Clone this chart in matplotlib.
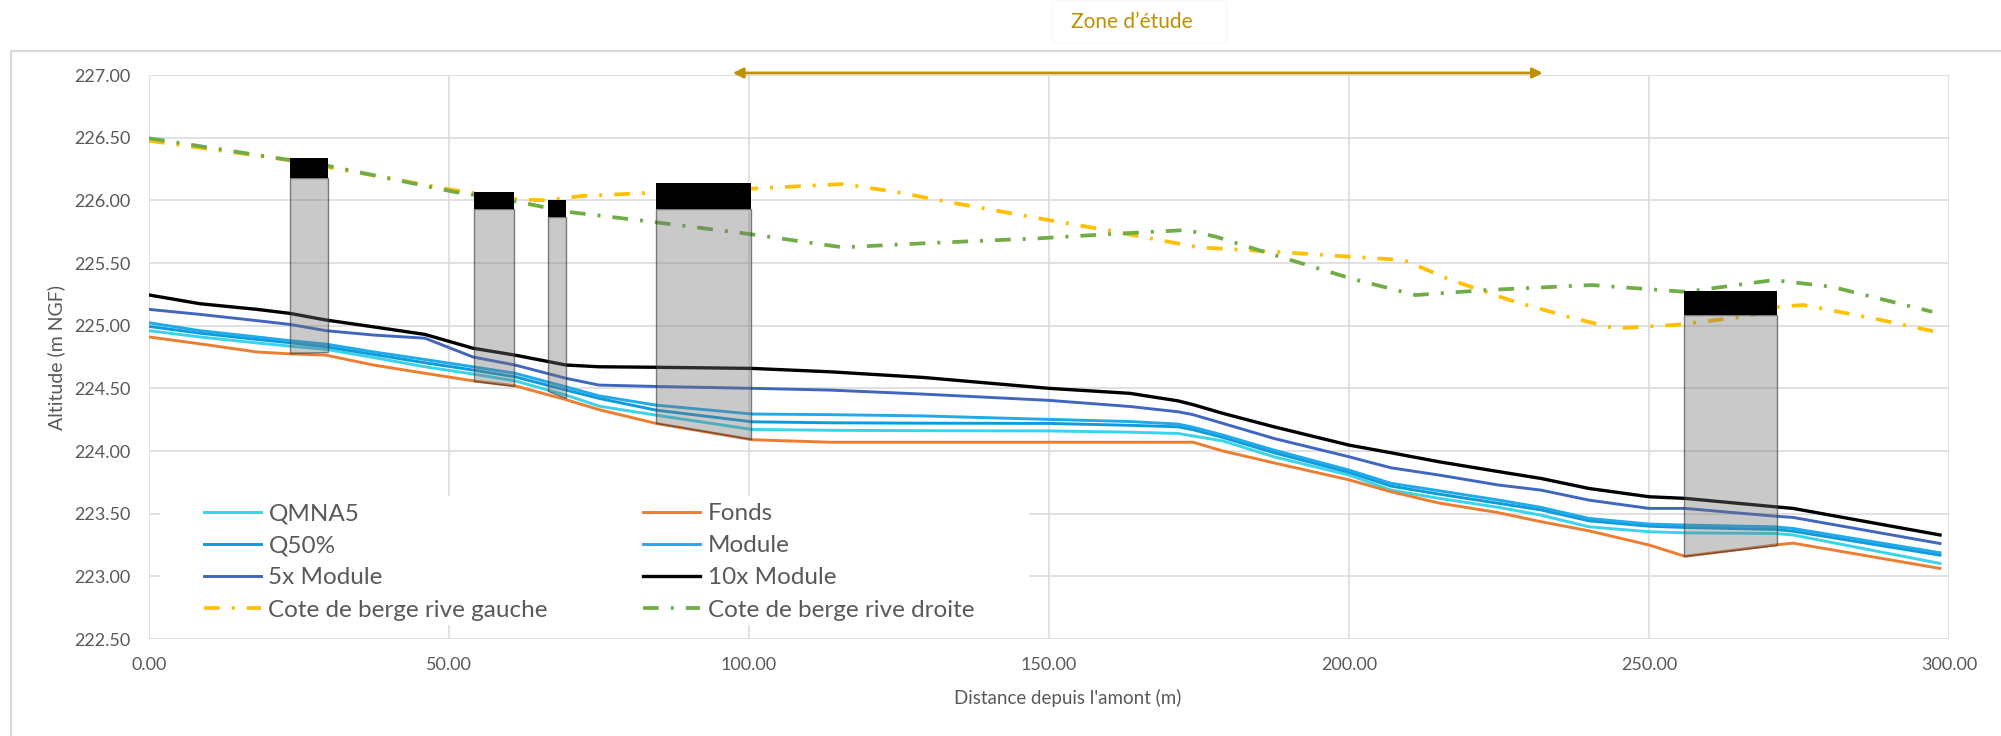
import matplotlib
matplotlib.use("Agg")
import matplotlib.pyplot as plt
from matplotlib.patches import Polygon, Rectangle
from matplotlib.ticker import FormatStrFormatter, MultipleLocator

plt.rcParams['font.family'] = ['Lato', 'DejaVu Sans']

# Distances (m) where the water profiles were sampled
dist = [0, 8.5, 18, 23.5, 29.5, 37.5, 46, 54, 61, 69.5, 75, 84.5, 100.5, 113.5,
        129, 150, 163.5, 171.5, 174, 179, 187.5, 200, 207, 215, 225, 232, 240,
        250, 256, 271, 274, 298.5]

fonds = [224.91, 224.855, 224.79, 224.775, 224.765, 224.685, 224.62, 224.56,
         224.52, 224.41, 224.33, 224.22, 224.09, 224.07, 224.07, 224.07, 224.07,
         224.07, 224.07, 224.0, 223.905, 223.77, 223.675, 223.585, 223.507,
         223.436, 223.363, 223.25, 223.16, 223.25, 223.265, 223.063]
qmna5 = [224.96, 224.91, 224.862, 224.837, 224.811, 224.745, 224.672, 224.614,
         224.56, 224.446, 224.358, 224.286, 224.172, 224.165, 224.162, 224.16,
         224.15, 224.14, 224.12, 224.08, 223.954, 223.808, 223.688, 223.622,
         223.55, 223.488, 223.395, 223.356, 223.347, 223.342, 223.33, 223.103]
q50 = [224.994, 224.94, 224.89, 224.864, 224.832, 224.77, 224.704, 224.646,
       224.592, 224.486, 224.42, 224.326, 224.233, 224.225, 224.222, 224.22,
       224.205, 224.193, 224.17, 224.108, 223.986, 223.83, 223.72, 223.656,
       223.582, 223.53, 223.443, 223.4, 223.39, 223.374, 223.36, 223.169]
module = [225.023, 224.96, 224.91, 224.88, 224.853, 224.79, 224.73, 224.672,
          224.62, 224.512, 224.44, 224.366, 224.295, 224.29, 224.28, 224.252,
          224.235, 224.215, 224.19, 224.127, 224.007, 223.848, 223.742, 223.683,
          223.608, 223.55, 223.462, 223.417, 223.409, 223.395, 223.382, 223.188]
module_5x = [225.13, 225.09, 225.04, 225.01, 224.96, 224.925, 224.9, 224.75,
             224.686, 224.58, 224.526, 224.515, 224.5, 224.486, 224.454, 224.404,
             224.355, 224.313, 224.29, 224.22, 224.1, 223.954, 223.866, 223.808,
             223.728, 223.688, 223.608, 223.542, 223.542, 223.48, 223.47, 223.262]
module_10x = [225.245, 225.175, 225.13, 225.098, 225.045, 224.99, 224.93, 224.82,
              224.765, 224.686, 224.672, 224.668, 224.659, 224.632, 224.587, 224.5,
              224.46, 224.4, 224.37, 224.3, 224.193, 224.047, 223.986, 223.914,
              223.835, 223.781, 223.701, 223.635, 223.622, 223.555, 223.542, 223.33]

# Bank levels
rg_dist = [0, 23.6, 50.7, 61.4, 66.2, 72, 83.6, 101, 115.6, 124.3, 133.9, 148.4,
           160.2, 174.9, 187.6, 200.3, 209.1, 217, 226.8, 236.5, 244.3, 254.1,
           265.9, 271.7, 275.7, 287.4, 298.6]
rive_gauche = [226.476, 226.32, 226.082, 226.008, 226.0, 226.034, 226.06, 226.095,
               226.13, 226.069, 225.981, 225.856, 225.757, 225.625, 225.59, 225.55,
               225.524, 225.364, 225.204, 225.071, 224.978, 225.005, 225.071,
               225.151, 225.165, 225.058, 224.943]
rd_dist = [0, 30.4, 50.7, 61.4, 69.6, 83.6, 100.1, 115.6, 129, 148.4, 160.2, 172.9,
           177.8, 187.6, 200.3, 211.1, 222.8, 240.4, 256.1, 270.8, 280.5, 297.2]
rive_droite = [226.495, 226.27, 226.069, 225.989, 225.909, 225.83, 225.731,
               225.625, 225.657, 225.697, 225.731, 225.763, 225.71, 225.563,
               225.377, 225.244, 225.284, 225.324, 225.27, 225.364, 225.31, 225.111]

# Structures (bridges / walls): extent, deck levels and bed level at each side
struct_x0 = [23.5, 54.1, 66.5, 84.5, 255.9]
struct_x1 = [29.8, 60.8, 69.5, 100.3, 271.3]
deck_top = [226.335, 226.07, 226.0, 226.14, 225.276]
deck_bottom = [226.18, 225.933, 225.87, 225.933, 225.085]
bed_left = [224.784, 224.558, 224.48, 224.22, 223.161]
bed_right = [224.787, 224.52, 224.42, 224.093, 223.249]

zone_start, zone_end = 97.3, 232.3

GREY_TXT = "#595959"
GOLD = "#BF9000"

fig = plt.figure(figsize=(20.01, 7.36), dpi=100)
ax = fig.add_axes([149 / 2001, 1 - 639 / 736, 1800 / 2001, 564 / 736])

lw = 2.1
ax.plot(dist, qmna5, color="#3AD3EC", lw=lw, label="QMNA5", zorder=3)
ax.plot(dist, q50, color="#0E9BDC", lw=lw, label="Q50%", zorder=3)
ax.plot(dist, module_5x, color="#4166BF", lw=lw, label="5x Module", zorder=3)
ax.plot(rg_dist, rive_gauche, color="#FFC000", lw=2.7,
        linestyle=(0, (4.2, 3.2, 0.8, 3.2)), label="Cote de berge rive gauche", zorder=2)
ax.plot(dist, fonds, color="#ED7D31", lw=lw, label="Fonds", zorder=3)
ax.plot(dist, module, color="#20AAEC", lw=lw, label="Module", zorder=3)
ax.plot(dist, module_10x, color="black", lw=2.4, label="10x Module", zorder=3)
ax.plot(rd_dist, rive_droite, color="#70AD47", lw=2.7,
        linestyle=(0, (4.2, 3.2, 0.8, 3.2)), label="Cote de berge rive droite", zorder=2)

# structures: translucent body down to the bed, opaque deck on top
for x0, x1, top, bot, bl, br in zip(struct_x0, struct_x1, deck_top, deck_bottom,
                                     bed_left, bed_right):
    body = Polygon([(x0, bl), (x0, bot), (x1, bot), (x1, br)], closed=True,
                   facecolor=(0.45, 0.45, 0.45, 0.38), edgecolor=(0.2, 0.2, 0.2, 0.6),
                   lw=1.0, zorder=4)
    ax.add_patch(body)
    ax.add_patch(Rectangle((x0, bot), x1 - x0, top - bot, facecolor="black",
                           edgecolor="none", zorder=5))

# study zone arrow
ax.annotate("", xy=(zone_start, 227.016), xytext=(zone_end, 227.016),
            xycoords="data", annotation_clip=False,
            arrowprops=dict(arrowstyle="<|-|>,head_length=0.6,head_width=0.3",
                            color=GOLD, lw=2.0, shrinkA=0, shrinkB=0))
fig.text(1132 / 2001, 1 - 22 / 736, "Zone d’étude", color=GOLD, fontsize=15,
         ha="center", va="center")
fig.patches.append(Rectangle((1052 / 2001, 1 - 43 / 736), 174 / 2001, 43 / 736,
                             transform=fig.transFigure, facecolor="none",
                             edgecolor="#F8F8F8", lw=1.0))

# chart outline
fig.patches.append(Rectangle((11 / 2001, -0.05), 1.1, 0.05 + 1 - 51 / 736,
                             transform=fig.transFigure, facecolor="none",
                             edgecolor="#D9D9D9", lw=1.5))

ax.set_xlim(0, 300)
ax.set_ylim(222.5, 227.0)
ax.xaxis.set_major_locator(MultipleLocator(50))
ax.yaxis.set_major_locator(MultipleLocator(0.5))
ax.xaxis.set_major_formatter(FormatStrFormatter("%.2f"))
ax.yaxis.set_major_formatter(FormatStrFormatter("%.2f"))
ax.grid(True, color="#D9D9D9", lw=1.1)
ax.set_axisbelow(True)
for s in ax.spines.values():
    s.set_visible(False)
ax.tick_params(length=0, labelsize=13, labelcolor=GREY_TXT)
ax.tick_params(axis="x", pad=13)
ax.tick_params(axis="y", pad=13)

ax.set_xlabel("Distance depuis l'amont (m)", fontsize=13.5, color=GREY_TXT)
ax.xaxis.set_label_coords((1068 - 149) / 1800, (639 - 698) / 564)
ax.xaxis.label.set_va("center")
ax.set_ylabel("Altitude (m NGF)", fontsize=14, color=GREY_TXT)
ax.yaxis.set_label_coords((56 - 149) / 1800, 0.5)
ax.yaxis.label.set_va("center")

# white legend area over the grid
ax.add_patch(Rectangle((11 / 1800, 14 / 564), 869 / 1800, 129 / 564,
                       transform=ax.transAxes, facecolor="white",
                       edgecolor="none", zorder=1))
leg = ax.legend(ncol=2, loc="upper left", mode="expand",
                bbox_to_anchor=(55 / 1800, (639 - 503) / 564, 770 / 1800, 0),
                frameon=False, fontsize=17.5, borderpad=0, borderaxespad=0,
                handlelength=2.35, handletextpad=0.3, labelspacing=0.46)
for t in leg.get_texts():
    t.set_color(GREY_TXT)

fig.savefig("out.png", dpi=100)
